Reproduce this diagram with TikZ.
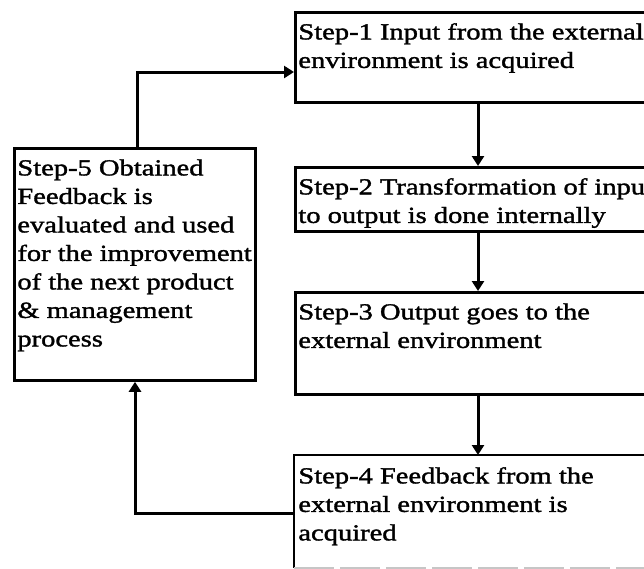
\documentclass[tikz,border=0pt]{standalone}
\usepackage{fontspec}
\setmainfont{Liberation Serif}[FakeStretch=1.24,FakeBold=1.5]
\usetikzlibrary{arrows.meta}
\newcommand{\steptext}[3]{\vbox to #2{\hsize=#1\relax\raggedright\parindent=0pt\leftskip=3pt
  \fontsize{23pt}{28.5pt}\selectfont\noindent\rule{0pt}{27pt}#3\par\vfil}}
\tikzset{
  stepbox/.style={draw, line width=2.8pt, inner sep=0pt, anchor=north west},
  conn/.style={line width=3pt, -{Triangle[length=10pt,width=12pt]}}
}
\begin{document}
\begin{tikzpicture}[x=1pt,y=-1pt]
\useasboundingbox (0,0) rectangle (644,568);
\clip (0,0) rectangle (644,568);
\fill[white] (0,0) rectangle (644,568);
\node[stepbox] (s1) at (294,11) {\steptext{400pt}{90pt}{Step-1 Input from the external\\environment is acquired}};
\node[stepbox] (s2) at (294,166) {\steptext{400pt}{64pt}{Step-2 Transformation of input\\to output is done internally}};
\node[stepbox] (s3) at (294,291) {\steptext{400pt}{102pt}{Step-3 Output goes to the\\external environment}};
\node[stepbox,draw=none] (s4) at (294,455) {\steptext{400pt}{110pt}{Step-4 Feedback from the\\external environment is\\acquired}};
\draw[line width=2.8pt] (s4.south west) -- (s4.north west) -- (s4.north east);
\draw[line width=2pt, gray!45, dash pattern=on 40pt off 6pt] (s4.south west) -- (s4.south east);
\node[stepbox] (s5) at (13,147) {\steptext{241pt}{232pt}{Step-5 Obtained\\Feedback is\\evaluated and used\\for the improvement\\of the next product\\\& management\\process}};
\coordinate (ax) at (478,0);
\coordinate (c1) at (137,72);
\coordinate (c2) at (135,513);
\draw[conn] (s1.south -| ax) -- (s2.north -| ax);
\draw[conn] (s2.south -| ax) -- (s3.north -| ax);
\draw[conn] (s3.south -| ax) -- (s4.north -| ax);
\draw[conn] (s5.north -| c1) -- (c1) -- (c1 -| s1.west);
\draw[conn] (c2 -| s4.west) -- (c2) -- (c2 |- s5.south);
\end{tikzpicture}
\end{document}
